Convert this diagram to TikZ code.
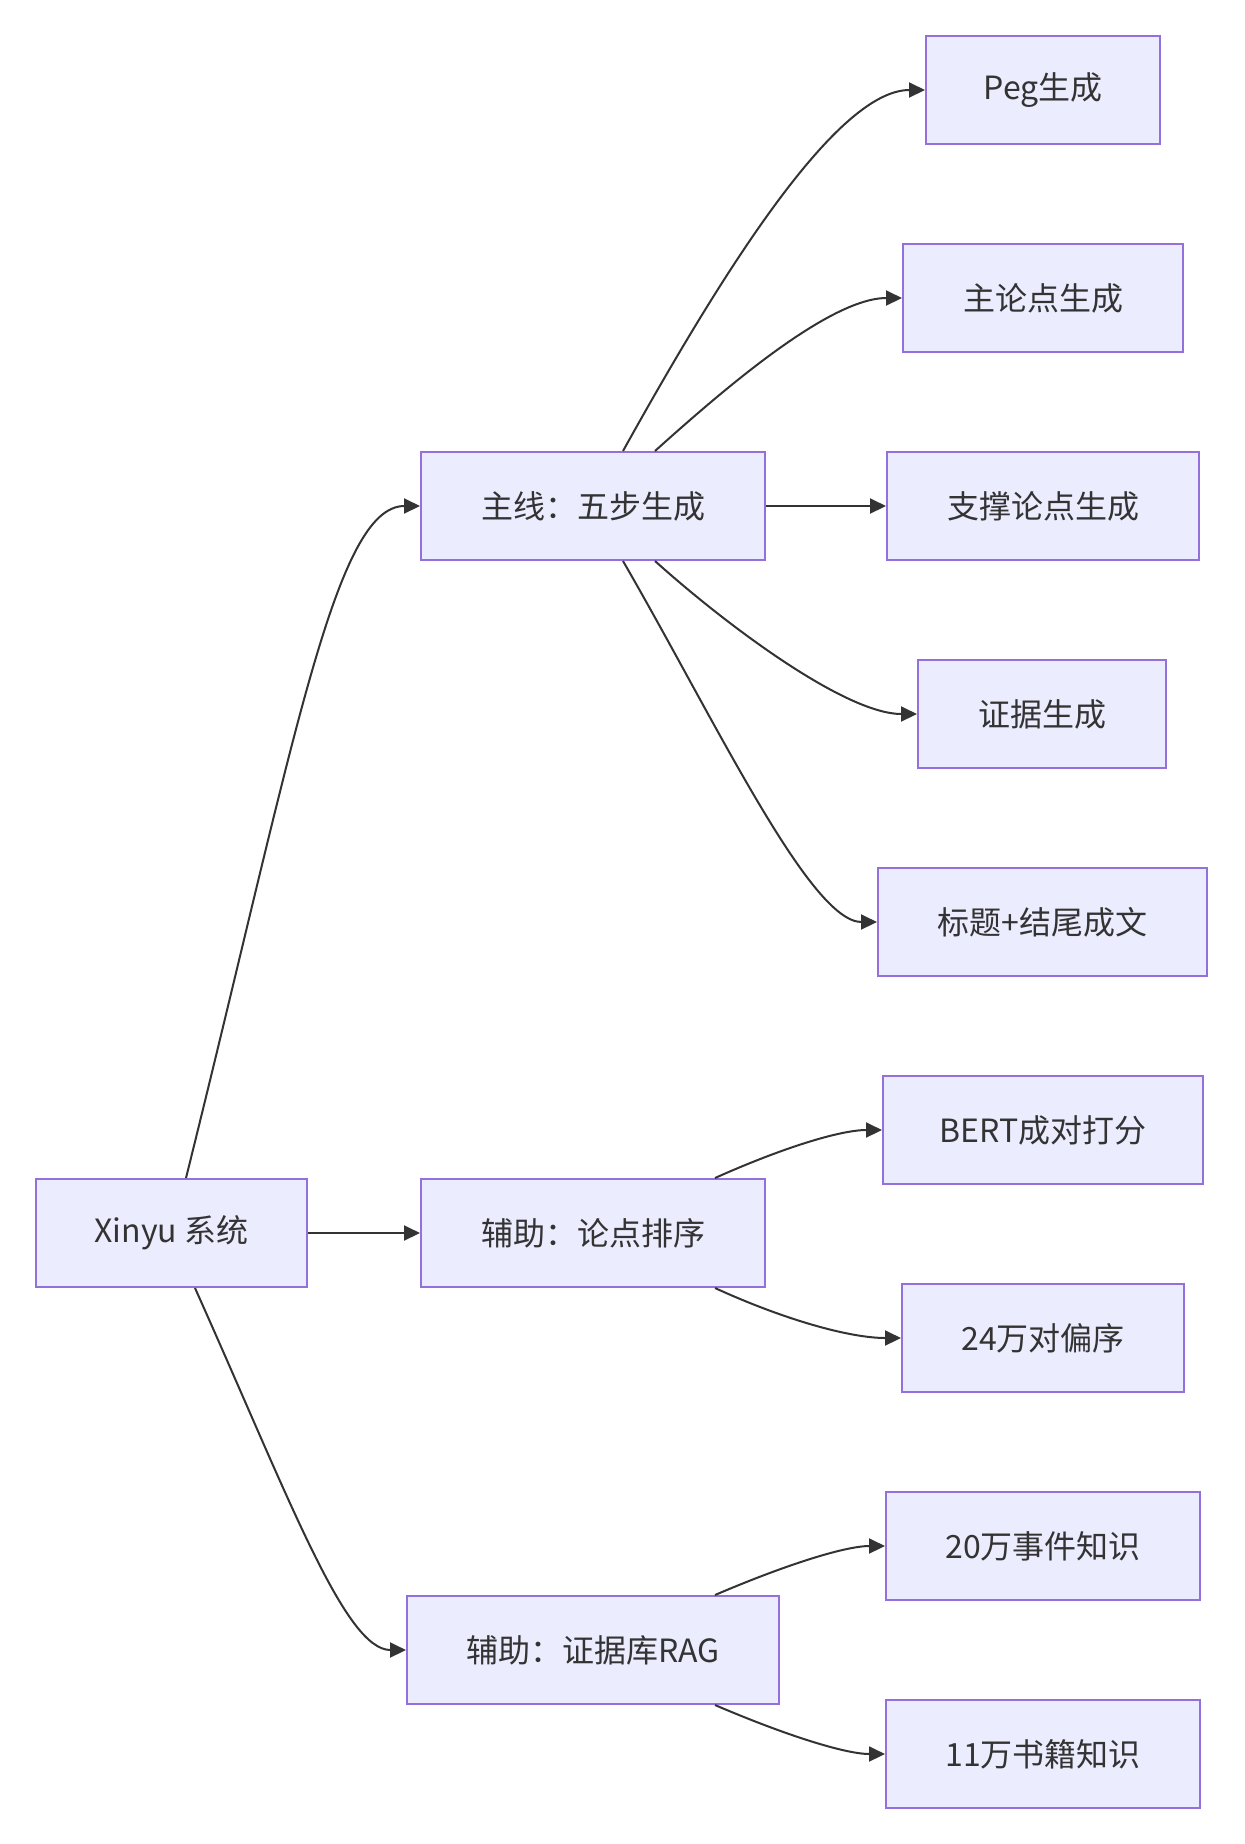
\documentclass[tikz,border=0pt]{standalone}
\usepackage{fontspec}
\newfontfamily\cjk{Noto Sans CJK SC}
\usetikzlibrary{arrows.meta}
\definecolor{bg}{HTML}{ECECFF}
\definecolor{bd}{HTML}{9370DB}
\definecolor{tx}{HTML}{333333}
\begin{document}
\begin{tikzpicture}[x=0.5pt,y=-0.5pt,
  box/.style={draw=bd, fill=bg, line width=1pt, minimum height=54pt, inner sep=0pt, text=tx, font=\cjk\fontsize{16}{19}\selectfont},
  edge/.style={draw=tx, line width=1pt, -{Triangle[length=8pt,width=7.5pt]}}]
\useasboundingbox[fill=white] (0,0) rectangle (1244,1844);
\node[box, minimum width=135.5pt] (x) at (171.5,1233) {Xinyu 系统};
\node[box, minimum width=172pt] (m) at (593,506) {主线：五步生成};
\node[box, minimum width=172pt] (a1) at (593,1233) {辅助：论点排序};
\node[box, minimum width=186pt] (a2) at (593,1650) {辅助：证据库RAG};
\node[box, minimum width=117pt] (p1) at (1043,90) {Peg生成};
\node[box, minimum width=140pt] (p2) at (1043,298) {主论点生成};
\node[box, minimum width=156pt] (p3) at (1043,506) {支撑论点生成};
\node[box, minimum width=124pt] (p4) at (1042,714) {证据生成};
\node[box, minimum width=164.5pt] (p5) at (1042.5,922) {标题+结尾成文};
\node[box, minimum width=160pt] (b1) at (1043,1130) {BERT成对打分};
\node[box, minimum width=141pt] (b2) at (1043,1338) {24万对偏序};
\node[box, minimum width=157pt] (c1) at (1043,1546) {20万事件知识};
\node[box, minimum width=157pt] (c2) at (1043,1754) {11万书籍知识};

\draw[edge] ([xshift=7.25pt]x.north) .. controls (295,740) and (335,506) .. (m.west);
\draw[edge] (x.east) -- (a1.west);
\draw[edge] ([xshift=11.75pt]x.south) .. controls (290,1500) and (345,1650) .. (a2.west);

\draw[edge] ([xshift=15pt]m.north) .. controls (718,280) and (835,90) .. (p1.west);
\draw[edge] ([xshift=31pt]m.north) .. controls (725,388) and (830,298) .. (p2.west);
\draw[edge] (m.east) -- (p3.west);
\draw[edge] ([xshift=31pt]m.south) .. controls (725,624) and (845,714) .. (p4.west);
\draw[edge] ([xshift=15pt]m.south) .. controls (715,720) and (810,922) .. (p5.west);

\draw[edge] ([xshift=61pt]a1.north) .. controls (782,1148) and (840,1130) .. (b1.west);
\draw[edge] ([xshift=61pt]a1.south) .. controls (785,1320) and (850,1338) .. (b2.west);
\draw[edge] ([xshift=61pt]a2.north) .. controls (785,1565) and (845,1546) .. (c1.west);
\draw[edge] ([xshift=61pt]a2.south) .. controls (785,1735) and (845,1754) .. (c2.west);
\end{tikzpicture}
\end{document}
